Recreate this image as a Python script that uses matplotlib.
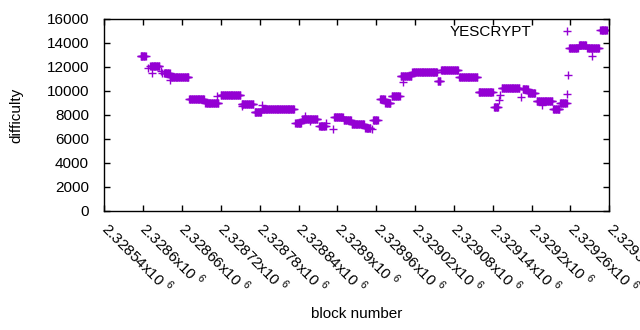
"""YESCRYPT difficulty per block, gnuplot-style scatter saved as out.png."""

import matplotlib

matplotlib.use("Agg")
import matplotlib.pyplot as plt
import matplotlib.transforms as mtransforms
import numpy as np

plt.rcParams["font.family"] = ["Liberation Sans", "DejaVu Sans"]
plt.rcParams["font.size"] = 11
plt.rcParams["mathtext.fontset"] = "custom"
plt.rcParams["mathtext.rm"] = "Liberation Sans"

# runs of blocks that share the same difficulty (first block, last block, value)
run_first = [2328596, 2328607, 2328611, 2328613, 2328628, 2328629, 2328632, 2328641,
             2328642, 2328671, 2328696, 2328714, 2328720, 2328752, 2328752, 2328772,
             2328783, 2328784, 2328835, 2328846, 2328850, 2328857, 2328872, 2328883,
             2328893, 2328895, 2328910, 2328922, 2328943, 2328953, 2328955, 2328966,
             2328974, 2328984, 2328998, 2329002, 2329016, 2329055, 2329060, 2329088,
             2329118, 2329142, 2329149, 2329151, 2329154, 2329184, 2329186, 2329195,
             2329208, 2329216, 2329233, 2329244, 2329255, 2329256, 2329258, 2329273,
             2329286, 2329294, 2329306]
run_last = [2328604, 2328607, 2328625, 2328613, 2328628, 2328629, 2328641, 2328641,
            2328670, 2328694, 2328716, 2328714, 2328750, 2328770, 2328752, 2328782,
            2328783, 2328833, 2328844, 2328869, 2328850, 2328857, 2328882, 2328883,
            2328893, 2328908, 2328921, 2328941, 2328951, 2328953, 2328962, 2328973,
            2328982, 2328996, 2329014, 2329002, 2329054, 2329059, 2329086, 2329116,
            2329140, 2329148, 2329149, 2329151, 2329181, 2329184, 2329194, 2329205,
            2329232, 2329216, 2329243, 2329254, 2329255, 2329256, 2329271, 2329284,
            2329304, 2329294, 2329316]
run_difficulty = [12900, 11950, 12050, 11530, 11700, 11470, 11500, 10900,
                  11130, 9310, 9030, 9580, 9640, 8920, 8750, 8290,
                  8830, 8470, 7310, 7640, 7900, 7500, 7060, 7330,
                  6810, 7810, 7560, 7250, 6950, 6800, 7560, 9310,
                  8970, 9580, 11220, 10780, 11570, 10800, 11780, 11130,
                  9920, 8670, 9250, 9670, 10220, 9530, 10200, 9800,
                  9170, 8830, 8470, 9000, 9720, 11330, 13620, 13870,
                  13560, 12920, 15080]

xtick_values = [2328540, 2328600, 2328660, 2328720, 2328780, 2328840, 2328900,
                2328960, 2329020, 2329080, 2329140, 2329200, 2329260, 2329320]
xtick_labels = ["2.32854", "2.3286", "2.32866", "2.32872", "2.32878", "2.32884", "2.3289",
                "2.32896", "2.32902", "2.32908", "2.32914", "2.3292", "2.32926", "2.32932"]
ytick_values = [0, 2000, 4000, 6000, 8000, 10000, 12000, 14000, 16000]

blocks = np.concatenate([np.arange(a, b + 1) for a, b in zip(run_first, run_last)])
difficulty = np.concatenate([np.full(b - a + 1, d) for a, b, d in zip(run_first, run_last, run_difficulty)])

fig = plt.figure(figsize=(6.4, 3.3), dpi=100)
ax = fig.add_axes([104.3 / 640, 119 / 330, 505 / 640, 192 / 330])

ax.plot(blocks, difficulty, linestyle="none", marker="+", markersize=5.5,
        markeredgewidth=1.0, color="#9400d3", label="YESCRYPT")

ax.set_xlim(2328540, 2329320)
ax.set_ylim(0, 16000)
ax.set_yticks(ytick_values)
ax.set_xticks(xtick_values)
ax.set_xticklabels([f"{s}x10 $^{{6}}$" for s in xtick_labels], rotation=-45,
                   ha="left", va="top", rotation_mode="anchor")
ax.tick_params(direction="in", length=4, width=1, top=True, right=True, colors="black")
ax.tick_params(axis="y", pad=11)
ax.tick_params(axis="x", pad=5)
shift = mtransforms.ScaledTranslation(7 / 100, 0, fig.dpi_scale_trans)
for lbl in ax.get_xticklabels():
    lbl.set_transform(lbl.get_transform() + shift)
for spine in ax.spines.values():
    spine.set_linewidth(1)

ax.set_xlabel("block number")
ax.set_ylabel("difficulty")
ax.xaxis.set_label_coords(0.5, -0.5)
ax.yaxis.set_label_coords(-0.16, 0.5)

ax.legend(loc="upper right", bbox_to_anchor=(0.9465, 0.968), frameon=False,
          markerfirst=False, borderaxespad=0, borderpad=0,
          handlelength=2, handletextpad=1.3)

fig.savefig("out.png", dpi=100)
plt.close(fig)
